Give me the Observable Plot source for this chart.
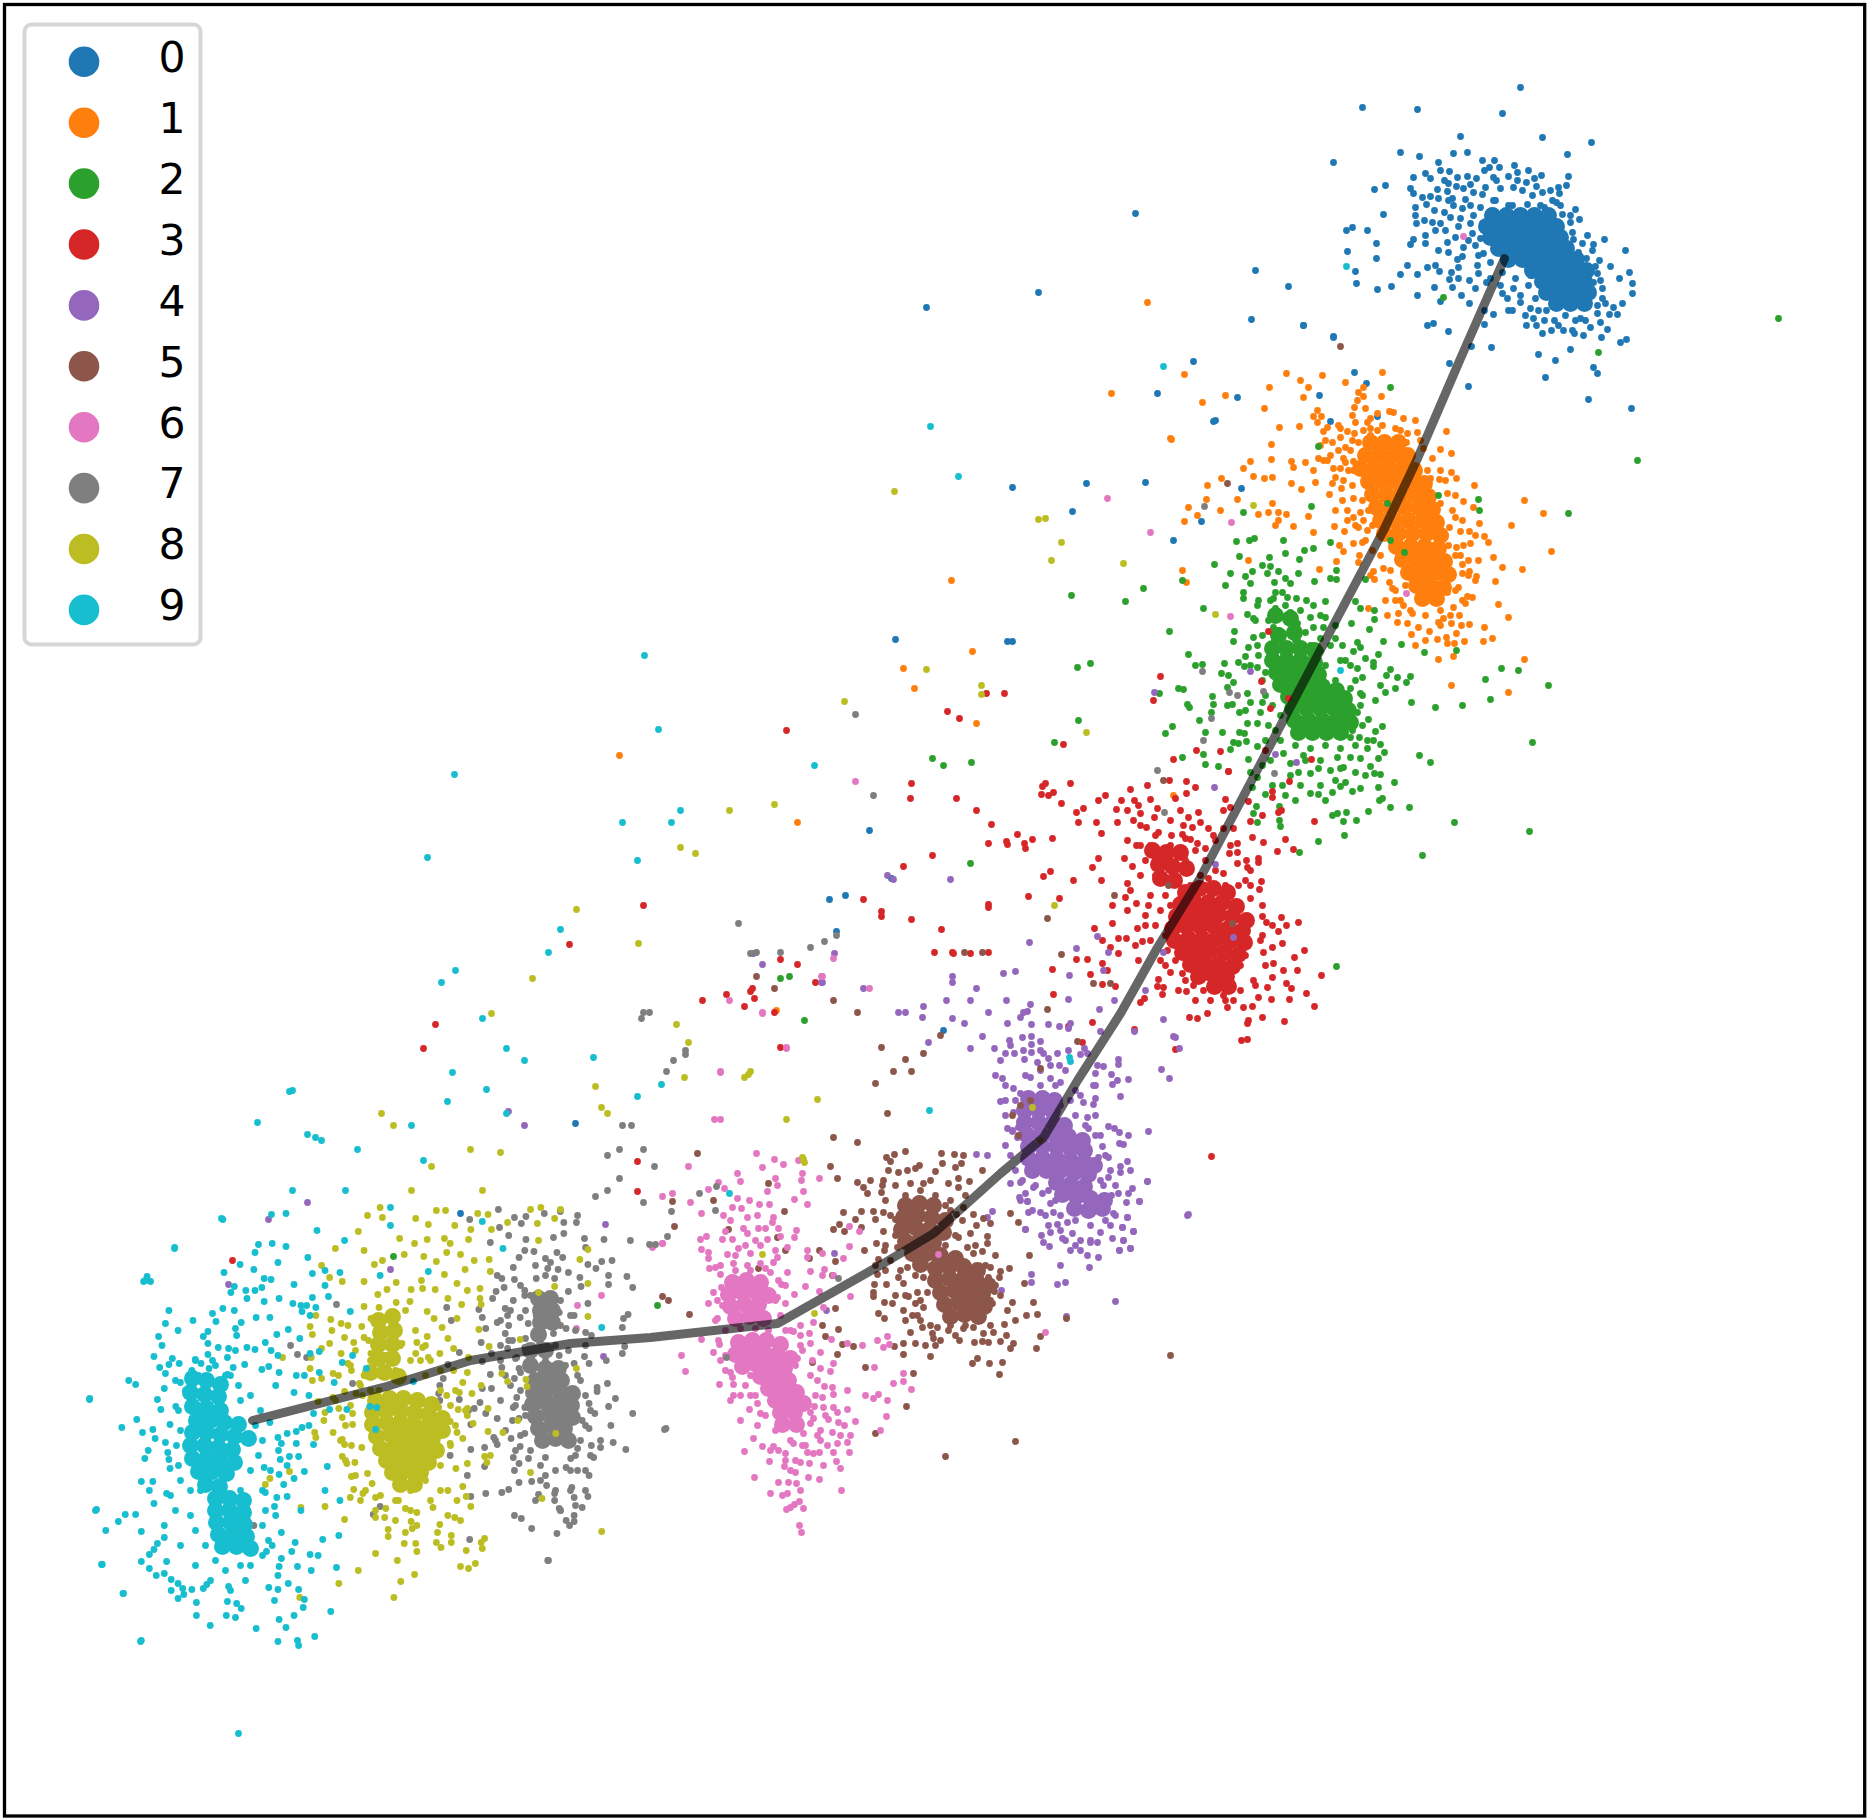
<!DOCTYPE html>
<html><head><meta charset="utf-8">
<script src="https://cdn.jsdelivr.net/npm/d3@7"></script>
<script src="https://cdn.jsdelivr.net/npm/@observablehq/plot@0.6"></script>
<style>html,body{margin:0;padding:0;background:#fff}svg{display:block}</style>
</head><body><div id="chart"></div>
<script>
const labels=["0","1","2","3","4","5","6","7","8","9"];
const colors=["#1f77b4","#ff7f0e","#2ca02c","#d62728","#9467bd","#8c564b","#e377c2","#7f7f7f","#bcbd22","#17becf"];
const pts0=[1520,87,1362,107,1417,109,1502,113,1460,136,1542,137,1591,142,1333,162,1400,152,1567,154,1419,156,1453,153,1467,152,1438,162,1482,160,1494,160,1568,176,1413,177,1425,173,1374,189,1385,185,1410,188,1383,214,1352,227,1346,230,1367,230,1376,243,1347,251,1376,258,1355,271,1356,283,1377,289,1391,286,1400,274,1407,265,1417,274,1417,295,1434,287,1452,287,1461,295,1440,301,1469,303,1484,310,1493,314,1508,310,1484,324,1427,325,1433,323,1448,331,1333,336,1303,325,1471,346,1491,347,1449,363,1468,386,1538,354,1555,360,1545,377,1570,349,1593,367,1597,373,1588,399,1631,408,1620,342,1626,339,1601,337,1583,335,1574,333,1607,329,1622,303,1632,293,1632,283,1629,272,1619,278,1610,266,1625,250,1604,239,1593,244,1599,260,1613,307,1617,314,1609,314,1575,209,1579,219,1566,185,1558,187,1559,193,
1413,193,1415,207,1415,215,1416,223,1424,220,1425,235,1413,239,1410,244,1425,243,1438,250,1422,197,1426,204,1437,189,1447,191,1438,198,1440,170,1449,171,1457,177,1467,176,1476,178,1484,170,1489,167,1499,167,1514,165,1528,170,1517,172,1541,175,1534,178,1526,182,1517,180,1493,177,1448,183,1463,188,1473,192,1485,187,1500,188,1513,187,1532,195,1542,192,1552,200,1556,202,1452,198,1453,205,1465,199,1480,207,1493,200,1508,205,1527,204,1544,207,1562,214,1570,215,1434,210,1444,212,1450,217,1462,208,1473,215,1488,213,1440,223,1460,218,1470,223,1482,223,1435,230,1447,242,1455,237,1472,233,1487,230,1463,247,1475,245,1483,253,1457,259,1435,265,1427,267,1439,271,1451,272,1458,267,1477,265,1478,273,1449,279,1458,278,1469,280,1486,282,1475,288,1502,293,1513,288,1507,298,1520,302,1530,308,1546,310,1533,318,1526,325,1544,320,1551,330,1542,333,1563,330,1572,232,1573,239,1587,235,1578,252,1586,258,1595,266,1597,273,1593,282,1602,288,1602,298,1605,303,1597,313,1600,322,1590,327,1575,320,1554,320,
1430,178,1444,180,1456,186,1470,184,1482,194,1496,180,1508,176,1522,190,1536,186,1550,190,1560,205,1470,205,1448,200,1430,196,1432,222,1445,230,1458,226,1468,240,1480,238,1490,262,1502,272,1478,255,1462,256,1448,252,1500,285,1490,278,1515,278,1528,285,1520,295,1535,298,1512,310,1525,315,1538,310,1530,275,1570,222,1582,243,1592,250,1590,270,1600,280,1580,318,1565,315,1540,205,1512,205,1495,200,1575,262,1597,305,1558,325,1572,330,1536,325,1585,320,
1135,213,1038,292,926,307,1012,487,1086,483,1145,482,1072,511,895,639,1007,641,1012,641,1215,420,1157,393,1251,319,1288,286,1255,270,1303,325,1333,337,869,830,891,878,845,895,829,899,836,931,943,1030,575,1123,460,1213,1193,361,1237,397,1213,421,1241,488,1201,521,1173,540,1319,395,1354,372,1366,383,1330,421,1377,416];
const core0=[1492,215,1506,215,1520,215,1534,215,1548,215,1486,226,1500,226,1514,226,1528,226,1542,226,1556,226,1490,237,1504,237,1518,237,1532,237,1546,237,1560,237,1498,248,1512,248,1526,248,1540,248,1554,248,1566,248,1508,259,1522,259,1536,259,1550,259,1564,259,1576,259,1532,270,1546,270,1560,270,1574,270,1586,270,1542,281,1556,281,1570,281,1584,281,1546,292,1560,292,1574,292,1588,292,1556,303,1570,303,1584,303];
const pts1=[1184,374,1286,373,1322,375,1300,380,1269,387,1308,387,1345,382,1382,372,1225,395,1202,402,1303,397,1264,408,1381,396,1171,439,1279,427,1299,426,1271,444,1250,461,1271,459,1243,468,1253,476,1264,478,1272,477,1221,478,1207,485,1206,499,1188,507,1197,515,1184,521,1220,510,1237,499,1258,514,1268,512,1272,503,1278,512,1286,514,1278,520,1275,525,1293,526,1308,516,1313,532,1334,526,1344,531,1291,483,1301,489,1315,482,1291,461,1305,462,1313,470,1293,467,1339,545,1343,551,1336,561,1319,569,1248,560,1182,570,1186,582,1359,555,1358,562,1373,571,1374,579,1368,608,1387,615,1397,622,1411,634,1415,645,1438,659,1453,656,1451,685,1508,692,1524,659,1483,641,1492,638,1484,627,1508,617,1498,604,1495,581,1502,567,1522,569,1493,557,1551,551,1511,525,1543,513,1524,500,1488,542,1484,536,1479,523,1476,576,1474,485,1463,501,1473,507,1451,472,1456,478,1451,453,1440,449,1446,431,1417,432,1403,418,1447,493,1439,479,1430,478,
1317,410,1313,416,1321,416,1317,422,1327,427,1323,431,1338,425,1340,428,1347,431,1363,396,1358,392,1363,387,1357,400,1354,407,1365,408,1352,415,1355,422,1367,422,1370,418,1377,413,1389,411,1393,412,1363,430,1377,430,1395,428,1407,433,1398,438,1406,442,1332,442,1340,437,1354,433,1358,442,1370,435,1338,450,1345,447,1318,458,1323,460,1327,460,1343,458,1353,461,1333,468,1340,468,1335,477,1343,480,1332,483,1341,488,1329,494,1353,470,1363,453,1387,443,1402,450,1353,498,1362,500,1347,510,1353,517,1347,520,1358,527,1363,520,1353,543,1362,542,1367,530,1372,550,1383,568,1389,582,1392,588,1403,605,1398,613,1407,623,1412,613,1418,627,1429,631,1437,639,1446,637,1447,643,1454,643,1456,633,1464,641,1461,625,1469,624,1451,623,1443,618,1459,615,1453,607,1447,592,1458,587,1467,596,1472,597,1465,603,1462,573,1469,571,1462,564,1468,560,1455,555,1463,545,1470,543,1456,547,1448,545,1469,531,1460,531,1455,517,1449,527,1440,520,1440,503,1430,507,1420,480,1427,470,1410,463,1423,448,
1352,440,1345,462,1352,485,1360,512,1365,540,1380,555,1390,570,1395,590,1400,600,1410,610,1425,615,1438,622,1450,615,1462,600,1475,580,1478,560,1460,555,1445,535,1452,510,1445,480,1432,458,1420,440,1415,420,1382,425,1370,428,1350,450,1325,440,1320,445,1330,455,1348,470,1342,500,1335,510,1370,575,1385,600,1405,585,1440,470,1455,495,1462,520,1475,535,1440,625,1425,640,1395,600,1382,445,1400,430,1355,525,1372,525,1368,510,1412,455,1432,545,1440,610,1455,590,1468,575,
1147,302,1111,393,1170,438,951,580,903,668,972,651,914,688,976,723,619,755,797,822,1173,795,776,1010];
const core1=[1370,442,1384,442,1398,442,1365,455,1379,455,1393,455,1407,455,1360,468,1374,468,1388,468,1402,468,1414,470,1368,481,1382,481,1396,481,1410,481,1424,483,1372,494,1386,494,1400,494,1414,494,1428,496,1376,507,1390,507,1404,507,1418,507,1432,509,1380,520,1394,520,1408,520,1422,520,1436,522,1384,533,1398,533,1412,533,1426,533,1440,535,1396,546,1410,546,1424,546,1438,548,1402,559,1416,559,1430,559,1444,561,1408,572,1422,572,1436,572,1448,574,1416,585,1430,585,1443,587,1422,598,1436,598];
const pts2=[1236,541,1249,540,1254,538,1283,540,1304,550,1313,548,1330,542,1285,553,1239,556,1269,557,1299,559,1214,564,1262,565,1270,566,1230,573,1252,571,1278,571,1298,573,1336,570,1245,576,1267,573,1182,580,1250,583,1274,582,1285,578,1290,583,1314,581,1330,578,1336,579,1365,579,1225,585,1243,592,1243,598,1275,592,1282,592,1203,608,1258,600,1273,598,1287,597,1296,598,1306,600,1325,601,1355,601,1360,608,1374,610,1374,619,1351,623,1369,629,1313,605,1257,605,1275,608,1290,612,1310,617,1247,614,1253,618,1268,620,1297,623,1313,627,1325,617,1323,627,1169,631,1234,631,1233,641,1253,637,1248,647,1257,645,1273,627,1283,633,1297,640,1320,638,1335,638,1342,645,1357,642,1360,647,1353,651,1188,654,1195,665,1202,664,1245,656,1238,662,1224,663,1221,673,1228,675,1244,666,1257,667,1265,672,1270,653,1345,660,1365,658,1373,662,1357,668,1373,666,1362,677,1390,669,1386,675,1397,677,1410,676,1406,682,1395,688,1380,685,1385,692,1350,688,1360,693,1340,690,1178,688,1183,689,1233,682,1227,687,1212,696,1247,693,1250,702,1262,702,1227,705,1232,704,1213,704,1187,704,1189,707,1211,712,1239,712,1245,710,1199,720,1247,723,1260,712,1257,723,1172,726,1165,733,1205,732,1222,732,1239,732,1244,733,1246,741,1233,742,1238,743,1230,749,1203,754,1182,757,1205,764,1218,766,1248,759,1250,772,1257,746,1257,777,1252,787,1272,785,1282,785,1265,794,1285,795,1295,800,1310,793,1325,800,1318,794,1332,792,1340,786,1352,791,1360,788,1378,787,1380,774,1374,773,1382,798,1379,800,1256,806,1253,813,1279,806,1279,820,1280,826,1257,822,1332,815,1337,813,1346,812,1343,821,1356,820,1368,811,1382,726,1375,731,1359,737,1367,740,1373,740,1380,744,1384,752,1378,758,1370,766,1360,758,1367,748,1350,737,1337,757,1350,757,1343,767,1330,770,1318,768,1310,773,1298,772,1290,763,1283,753,1303,755,1357,712,1368,719,1350,710,1347,723,
1270,600,1285,605,1300,610,1255,620,1262,635,1278,630,1290,622,1305,632,1320,615,1335,625,1258,655,1250,665,1262,680,1310,645,1330,645,1340,660,1325,665,1335,680,1350,665,1355,680,1362,695,1345,700,1360,705,1375,700,1265,695,1272,705,1280,715,1268,725,1280,740,1265,740,1275,730,1295,745,1310,748,1325,745,1340,748,1355,745,1320,760,1340,768,1355,772,1365,775,1300,785,1320,785,1335,780,1290,775,1305,760,1295,640,1280,615,1320,650,1352,730,1362,725,1270,760,1262,765,1345,782,
1778,318,1637,460,1598,352,1443,297,1390,387,1568,513,1501,668,1518,670,1548,685,1485,679,1490,699,1532,742,1529,831,1454,822,1419,755,1430,762,1422,855,1462,705,1435,707,1411,702,1394,782,1409,807,1390,807,1318,841,1344,835,1299,852,1336,966,1478,499,1479,510,1438,495,1318,446,1311,506,1243,512,1387,503,1390,540,1404,552,1456,650,1424,652,1401,644,1383,641,1378,654,1090,663,1077,667,1071,595,1143,588,1125,601,971,762,932,758,943,765,970,863,804,1020,780,978,789,976,393,1256,657,1305,1078,720,1054,742,1159,693];
const core2=[1272,648,1286,648,1300,648,1314,650,1272,660,1286,660,1300,660,1314,662,1276,672,1290,672,1304,672,1318,674,1280,684,1294,684,1308,684,1322,686,1336,690,1288,696,1302,696,1316,696,1330,696,1344,698,1292,708,1306,708,1320,708,1334,708,1348,710,1294,720,1308,720,1322,720,1336,720,1350,722,1298,732,1312,732,1326,732,1340,732,1275,615,1290,618,1278,635,1294,632];
const pts3=[1045,783,1070,783,1041,794,1053,792,1061,803,1076,812,1083,808,1098,800,1105,795,1121,800,1130,789,1147,785,1134,800,1150,799,1116,809,1127,810,1138,805,1096,822,1117,822,1133,820,1140,813,1154,817,1157,808,1101,833,1017,834,1032,839,1007,844,1025,848,1052,838,1127,840,1136,845,1146,827,1158,832,1171,835,1098,858,1092,867,1043,876,1050,871,1073,880,1101,880,1127,883,1124,858,1132,866,1028,896,1059,898,1125,897,1136,903,1112,905,1127,910,1148,905,1112,923,1094,928,1137,928,1145,925,1118,938,1126,938,1102,940,1135,945,1142,941,1110,947,1118,953,1076,959,1087,959,1102,963,1138,960,1052,969,1107,970,1090,974,1102,984,1115,986,1053,994,1158,979,1157,986,1163,987,1162,994,1178,990,1186,991,1144,998,1140,1002,1092,1022,1134,1029,1175,1049,1082,1042,1189,1017,1197,1018,1207,1013,1211,1156,1248,1020,1247,1023,1241,1040,1247,1039,1262,1017,1284,1021,1314,1006,1306,993,1321,975,1289,999,1291,988,1286,983,1283,970,1297,970,1294,957,1304,950,1282,943,1278,931,1286,925,1298,922,1281,917,1272,925,1266,922,1262,916,1272,947,1263,952,1273,963,1272,977,1267,987,1253,980,1258,997,1271,999,1252,1006,1243,1007,1233,1000,1227,1007,1223,995,1203,990,1193,985,1182,973,1170,972,1160,960,1167,950,1261,881,1259,889,1250,898,1245,880,1258,858,1258,862,1246,860,1237,863,1247,867,1223,873,1208,878,1237,843,1237,852,1229,853,1252,837,1263,842,1285,839,1277,851,1293,849,1314,821,1262,815,1250,821,1278,812,1281,810,1272,791,1272,797,1289,781,1248,801,1225,799,1223,810,1230,807,1228,771,1195,787,1186,781,1186,793,1175,798,1169,780,1198,812,1188,817,1180,810,1170,820,1200,822,1208,828,1192,827,1183,825,1182,834,1190,839,1223,828,1233,828,1213,835,1197,843,1205,848,
1140,825,1155,835,1170,845,1185,838,1195,850,1205,860,1215,870,1225,885,1238,885,1250,870,1140,845,1145,860,1155,875,1165,895,1150,895,1160,910,1145,915,1155,925,1165,935,1150,940,1175,960,1185,980,1195,1000,1210,1000,1225,1000,1240,990,1255,985,1265,965,1260,940,1262,905,1250,885,1185,860,1200,875,1170,905,1140,875,1130,890,1165,965,1215,840,1230,845,1262,935,1150,845,1178,880,1190,885,1205,885,1240,965,1245,955,
1196,750,1220,751,1173,759,1228,771,1268,631,1261,681,1288,698,1270,708,1311,759,1265,750,1160,676,1153,700,
911,783,910,798,956,798,976,810,991,824,1024,843,1006,841,988,843,932,855,903,866,881,911,863,899,911,919,941,929,988,907,953,953,970,953,786,730,947,711,959,718,1004,693,986,693,1063,744,1042,786,1048,795,1078,822,643,905,569,944,435,1024,423,1048,637,1161,637,1191,750,991,754,998,774,1012,780,959,232,1260,702,1000,1068,1026,
726,994,752,988,797,964,815,982,881,916,934,952,988,904,952,952,988,952,744,1006,780,1047];
const core3=[1185,892,1199,888,1213,888,1227,892,1180,904,1194,902,1208,902,1222,902,1236,906,1176,916,1190,914,1204,914,1218,914,1232,916,1246,920,1172,928,1186,926,1200,926,1214,926,1228,928,1242,930,1174,940,1188,938,1202,938,1216,938,1230,940,1244,942,1182,952,1196,950,1210,950,1224,952,1238,954,1190,964,1204,962,1218,964,1232,966,1198,976,1212,974,1226,976,1214,986,1228,986,1152,850,1166,852,1180,852,1158,864,1172,866,1186,868,1160,878,1174,880];
const pts4=[1030,1004,1027,1011,1020,1017,1031,1024,1048,1024,1059,1026,1068,1028,1070,1023,1007,1023,1022,1037,1031,1036,1040,1041,1009,1040,1031,1044,1023,1050,1031,1052,1043,1053,1057,1053,1068,1050,1080,1054,1084,1048,1087,1053,1014,1053,1005,1053,1024,1059,1037,1062,1048,1058,1059,1065,1097,1065,1103,1066,1118,1059,1118,1064,1111,1074,1117,1080,1128,1079,1112,1084,1095,1073,1093,1085,1120,1096,1095,1098,1093,1104,1080,1095,1083,1102,1030,1077,1050,1078,1060,1082,1013,1088,1020,1093,1005,1100,1013,1112,1007,1128,1018,1127,1005,1145,1017,1137,1087,1117,1088,1128,1108,1126,1114,1128,1119,1132,1128,1135,1095,1135,1102,1146,1119,1143,1123,1144,1098,1157,1108,1157,1127,1161,1120,1166,1130,1170,1120,1172,1147,1181,1108,1177,1103,1185,1132,1188,1128,1193,1111,1195,1118,1193,1126,1202,1139,1201,1113,1213,1127,1217,1122,1227,1133,1231,1123,1240,1130,1248,1119,1250,1112,1238,1097,1242,1090,1242,1080,1240,1062,1238,1049,1246,1043,1242,1041,1235,1025,1229,1057,1224,1048,1225,1067,1222,1053,1212,1040,1212,1028,1212,1032,1210,1027,1201,1020,1200,1025,1193,1042,1193,1033,1187,1020,1182,1010,1183,1050,1203,1072,1233,1070,1250,1080,1250,1087,1255,1098,1257,
1015,1100,1005,1115,1012,1130,1025,1075,1040,1070,1055,1085,1070,1100,1060,1105,1075,1115,1085,1125,1095,1115,1100,1135,1105,1155,1110,1170,1100,1180,1115,1185,1010,1155,1015,1170,1022,1180,1035,1185,1048,1190,1055,1200,1045,1215,1060,1215,1075,1220,1090,1225,1105,1220,1115,1215,1060,1230,1075,1245,1090,1240,1100,1232,1110,1225,1065,1240,1010,1045,1000,1060,995,1075,1005,1085,1040,1050,1050,1065,1040,1085,1065,1070,1075,1090,1095,1085,1090,1210,1050,1232,
1060,1265,1031,1274,1031,1282,1057,1284,1065,1282,1115,1301,1001,1290,826,1310,834,1253,1089,1267,1119,1250,1130,1248,1133,1231,1122,1227,1123,1240,1139,1201,1127,1217,1147,1181,1025,1229,992,1211,987,1217,1019,1197,1027,1201,987,1155,976,1154,
970,1000,952,982,923,1006,905,1012,970,1048,988,1012,928,1042,952,1018,982,1036,1006,1000,1023,1012,1002,1078,994,1048,1000,1101,1012,1131,
950,879,893,879,822,982,753,953,834,953,863,988,1187,1215,1066,1316,1179,1048,1173,1036,524,1125,508,1111,268,1219,307,1202,228,1284,390,1269,605,1224,603,1356,1250,671,1275,754,1296,762,1214,787,1154,692,1215,864,1233,937,1163,952,1145,990,1163,1019,1134,1031,1175,1037,1161,1069,1169,1078,1148,1131,1188,1214,1097,936,1108,952,1076,948,1103,970,1069,975,1029,942,1068,999,1099,1009,1100,1031,1114,1000,1015,971,1003,973,
898,1012,922,1017,952,976,976,988,762,964,821,982,887,875,964,1023,946,1000];
const core4=[1028,1098,1042,1098,1054,1100,1024,1110,1038,1110,1052,1110,1024,1122,1038,1122,1052,1122,1064,1125,1026,1134,1040,1134,1054,1134,1068,1136,1082,1140,1028,1146,1042,1146,1056,1146,1070,1148,1084,1150,1028,1158,1042,1158,1056,1158,1070,1160,1084,1162,1094,1165,1032,1170,1046,1170,1060,1170,1074,1172,1088,1174,1056,1182,1070,1184,1084,1186,1062,1194,1076,1196,1090,1198,1104,1200,1074,1208,1088,1210,1102,1208];
const pts5=[697,1153,768,1183,672,1201,713,1200,784,1211,674,1226,728,1229,830,1166,837,1178,662,1296,668,1300,689,1314,819,1250,835,1261,809,1258,785,1250,777,1237,758,1268,832,1275,835,1308,822,1325,838,1329,825,1336,842,1344,853,1346,837,1354,812,1362,865,1367,875,1433,906,1406,913,1373,894,1346,903,1343,915,1343,903,1354,930,1356,933,1338,935,1345,959,1340,974,1342,982,1341,988,1342,1000,1341,1013,1343,1010,1348,1006,1335,993,1332,983,1333,972,1363,977,1358,989,1363,1002,1362,999,1374,1004,1324,1007,1310,1012,1302,992,1303,985,1293,994,1291,989,1286,999,1277,1000,1271,988,1277,990,1267,982,1251,987,1243,987,1236,990,1223,983,1218,976,1225,973,1214,956,1214,969,1181,982,1170,961,1163,955,1167,963,1155,954,1154,941,1153,905,1151,894,1154,886,1157,890,1161,942,1163,888,1170,898,1172,907,1170,919,1165,915,1168,935,1171,883,1180,882,1185,870,1180,857,1182,863,1187,867,1193,881,1192,910,1183,930,1180,958,1178,958,1187,948,1183,923,1183,843,1212,861,1211,873,1211,855,1219,875,1219,839,1224,833,1229,844,1231,861,1227,883,1212,895,1219,883,1231,876,1243,864,1250,884,1250,878,1259,877,1274,874,1284,886,1284,873,1292,873,1296,884,1302,892,1303,878,1313,884,1318,903,1310,905,1320,912,1315,917,1315,922,1327,910,1332,932,1333,937,1327,948,1330,963,1328,973,1327,980,1320,898,1277,903,1283,908,1296,915,1303,923,1307,927,1292,917,1292,933,1280,923,1277,917,1263,907,1267,897,1247,908,1250,923,1253,933,1257,950,1210,963,1207,962,1220,970,1233,973,1253,967,1247,958,1237,980,1270,
895,1185,905,1195,920,1190,935,1195,945,1205,885,1200,890,1215,895,1235,885,1245,890,1260,900,1270,915,1275,925,1265,895,1295,920,1320,930,1325,950,1325,965,1325,990,1300,995,1285,985,1265,975,1245,955,1235,945,1225,950,1200,965,1195,930,1205,905,1205,875,1265,885,1270,905,1295,940,1340,925,1345,955,1335,1000,1295,1015,1320,990,1325,920,1300,945,1245,960,1260,995,1255,935,1245,915,1240,
1114,895,1047,918,1061,954,1093,983,1110,983,1047,1009,1168,885,1232,923,1163,780,1227,483,1340,346,1077,1041,1015,1441,945,1456,1066,1318,1036,1348,1040,1336,1029,1255,1024,1283,1033,1302,1026,1315,1037,1314,1010,1213,1018,1222,1009,1268,1170,1355,1012,1115,1040,1068,1030,1100,1020,1105,1018,1135,1040,1140,
756,976,774,988,833,1000,857,1012,881,1047,905,1059,923,1053,893,1071,875,1083,911,1071,940,1035,964,952,982,952,887,1113,833,1137,857,1142];
const core5=[935,1268,949,1266,963,1266,977,1270,935,1280,949,1278,963,1278,977,1282,988,1285,940,1292,954,1290,968,1290,982,1294,944,1304,958,1302,972,1302,984,1306,950,1316,964,1314,978,1316,905,1205,919,1203,933,1205,903,1217,917,1215,931,1217,945,1220,901,1229,915,1227,929,1229,943,1232,905,1241,919,1240,933,1242,912,1253,926,1253,940,1255,955,1258,920,1264];
const pts6=[756,1153,688,1166,774,1159,783,1164,798,1160,762,1167,737,1173,802,1173,740,1181,775,1178,801,1180,819,1178,718,1182,777,1185,708,1189,724,1188,672,1193,662,1196,767,1191,803,1191,794,1199,807,1204,737,1198,749,1200,759,1204,769,1204,701,1213,732,1207,741,1208,723,1215,747,1217,757,1215,773,1217,730,1220,772,1222,743,1228,758,1228,778,1228,796,1230,725,1231,794,1237,706,1236,700,1239,722,1239,732,1239,747,1233,767,1239,780,1236,662,1243,652,1246,701,1249,708,1252,708,1258,727,1254,738,1248,750,1253,777,1257,787,1247,807,1250,822,1253,807,1257,843,1258,849,1246,849,1226,859,1231,709,1268,715,1267,720,1274,733,1263,747,1265,760,1263,773,1262,770,1272,787,1272,810,1271,824,1269,822,1275,833,1275,781,1284,785,1285,805,1286,819,1291,794,1294,850,1296,713,1292,721,1287,708,1303,717,1300,717,1318,785,1303,823,1307,777,1297,813,1322,800,1325,809,1333,793,1331,800,1335,701,1339,831,1339,810,1343,847,1343,862,1345,877,1340,887,1336,883,1347,889,1344,681,1355,713,1352,719,1344,820,1352,802,1350,797,1358,833,1363,685,1371,725,1370,820,1368,830,1371,874,1367,903,1373,903,1381,893,1383,911,1389,719,1384,733,1384,732,1377,817,1380,824,1386,832,1387,847,1390,833,1394,733,1395,750,1395,740,1395,865,1395,873,1398,878,1394,887,1400,822,1397,749,1409,760,1413,757,1403,814,1406,823,1407,833,1407,847,1409,837,1412,886,1416,813,1418,828,1419,855,1421,838,1422,844,1425,880,1430,757,1425,810,1423,820,1430,832,1432,850,1435,753,1438,803,1433,817,1435,762,1446,773,1446,793,1443,802,1445,827,1445,837,1443,847,1442,744,1451,778,1450,785,1453,807,1452,813,1453,819,1452,833,1452,849,1452,795,1460,800,1462,809,1463,769,1461,836,1461,784,1466,823,1465,840,1468,790,1470,795,1472,754,1477,808,1477,819,1479,778,1482,788,1482,796,1483,800,1490,841,1490,770,1493,782,1495,787,1493,799,1501,794,1504,790,1507,786,1509,803,1508,799,1525,801,1532,1045,1332,938,1254,
720,1265,735,1270,750,1270,765,1268,778,1280,775,1300,780,1315,768,1330,755,1328,740,1328,725,1330,715,1320,722,1305,718,1340,725,1355,730,1372,745,1385,755,1395,770,1400,790,1330,800,1345,795,1365,810,1375,815,1395,810,1412,800,1425,790,1440,775,1430,765,1415,770,1450,785,1460,805,1445,820,1440,785,1330,775,1250,760,1245,745,1245,735,1255,765,1228,755,1240,740,1420,730,1400,750,1375,720,1360,812,1360,825,1415,840,1435,
1463,236,1231,522,1230,616,1150,532,1406,593,1107,498,855,781,762,1013,786,1048,720,1072,714,1119,729,1000,822,976,652,1247,662,1243,601,1295,577,1305,576,1328,
720,1119,690,1202,786,1047,720,1071,762,1012,821,976,869,988,833,958];
const core6=[732,1282,746,1280,760,1282,728,1294,742,1292,756,1292,768,1295,730,1306,744,1304,758,1304,735,1318,749,1316,763,1318,738,1342,752,1340,766,1340,780,1344,735,1354,749,1352,763,1352,777,1354,790,1358,742,1366,756,1364,770,1364,784,1368,760,1376,774,1376,788,1380,768,1388,782,1388,796,1392,775,1400,789,1400,803,1403,780,1412,794,1412,782,1424,796,1424];
const cropPts7=[444,1209,468,1216,458,1217,419,1219,445,1227,464,1223,484,1213,498,1211,513,1215,501,1222,512,1222,453,1235,437,1242,468,1239,492,1237,501,1233,519,1238,536,1239,559,1240,467,1250,475,1251,495,1252,520,1247,462,1257,485,1258,500,1257,522,1264,534,1261,543,1260,529,1268,457,1267,487,1268,496,1269,505,1272,515,1277,540,1275,556,1276,447,1278,458,1279,477,1278,493,1278,443,1275,540,1284,561,1287,449,1287,467,1290,505,1291,516,1286,442,1291,457,1300,439,1298,467,1295,450,1308,427,1309,399,1307,452,1315,463,1317,477,1315,497,1312,510,1315,522,1303,557,1314,553,1318,430,1317,403,1320,443,1322,433,1328,453,1325,470,1323,503,1328,552,1327,450,1333,477,1330,492,1333,520,1332,429,1342,453,1340,525,1335,554,1346,552,1353,452,1348,467,1347,480,1343,460,1357,438,1353,519,1356,473,1357,497,1355,510,1363,523,1363,538,1360,437,1374,447,1367,462,1368,430,1361,410,1352,400,1364,396,1378,393,1385,458,1378,513,1375,539,1383,530,1387,530,1391,430,1388,438,1388,392,1393,393,1400,410,1399,428,1402,418,1410,423,1408,460,1397,467,1407,457,1407,546,1398,540,1406,561,1413,523,1403,528,1413,433,1413,443,1418,462,1418,420,1424,517,1420,542,1425,590,1428,523,1428,440,1437,455,1438,467,1433,525,1445,533,1440,544,1442,555,1449,420,1449,432,1447,443,1444,463,1446,513,1448,533,1447,402,1455,457,1457,472,1450,485,1457,507,1458,527,1457,432,1466,462,1463,503,1467,417,1475,458,1470,485,1475,513,1470,523,1475,462,1482,473,1481,486,1485,508,1487,420,1496,433,1493,447,1492,453,1489,479,1494,493,1493,510,1497,522,1496,493,1500,497,1508,517,1507,341,1506,335,1514,458,1515,464,1518,498,1510,510,1515,503,1520,510,1521,506,1525,473,1528,495,1533,419,1539,487,1560,231,1525,214,1443,303,1304,263,1345,269,1354,277,1357,317,1383];
const pts7=[500,1345,512,1340,525,1338,540,1340,555,1345,568,1350,500,1360,515,1358,530,1355,545,1360,565,1365,505,1375,520,1372,580,1380,585,1395,590,1410,585,1425,580,1440,575,1455,520,1390,515,1405,525,1415,512,1420,520,1435,515,1450,528,1458,540,1465,555,1470,570,1470,585,1470,540,1480,555,1490,570,1490,590,1455,500,1320,510,1310,525,1310,530,1295,560,1300,570,1315,560,1325,545,1275,550,1262,535,1265,520,1285,575,1330,585,1345,495,1440,505,1430,500,1400,510,1385,535,1500,560,1510,575,1505,585,1490,
1204,506,1202,671,1229,692,1237,695,1263,691,1211,718,1203,740,1274,773,1157,770,1164,812,873,795,855,714,738,923,824,941,750,953,810,947,836,935,649,1012,641,1018,685,1054,673,1060,622,1125,607,1155,643,1149,655,1244,664,1429,548,1560,726,1357,654,1166,699,1193,716,1186,715,1210,671,1211,667,1236,838,1278,
643,1012,685,1050,666,1071,631,1125,619,1149,607,1190,643,1202,595,1196,619,1178,649,1244,756,952,780,952];
const core7=[535,1380,548,1378,561,1380,533,1392,546,1390,559,1390,572,1393,532,1404,545,1402,558,1402,571,1405,535,1416,548,1414,561,1414,572,1417,538,1428,551,1426,564,1428,542,1440,555,1438,568,1440,538,1298,550,1298,540,1310,552,1310,540,1322,552,1322,538,1334,530,1350,545,1350,530,1365,545,1368,558,1368];
const cropPts8=[330,1215,343,1217,341,1207,372,1218,390,1210,398,1210,426,1213,435,1214,383,1224,406,1225,420,1229,438,1229,322,1231,358,1238,382,1239,397,1238,418,1239,302,1248,327,1250,371,1243,402,1243,362,1254,379,1256,399,1252,411,1254,336,1264,343,1260,390,1261,423,1260,290,1265,436,1259,397,1274,415,1269,437,1271,297,1277,308,1281,327,1281,355,1282,377,1280,408,1283,347,1289,368,1289,378,1288,389,1289,417,1290,428,1288,339,1294,400,1298,428,1298,355,1302,367,1301,412,1304,429,1304,327,1306,340,1307,382,1311,285,1315,298,1319,333,1318,388,1318,408,1318,280,1326,307,1323,325,1326,299,1330,313,1325,282,1334,310,1337,327,1337,347,1333,395,1327,427,1329,318,1342,337,1342,297,1343,382,1336,400,1338,436,1346,463,1339,290,1348,307,1353,360,1343,373,1342,378,1347,405,1348,256,1357,281,1357,313,1363,333,1353,347,1355,372,1353,383,1357,393,1353,418,1357,280,1368,300,1373,316,1370,327,1375,343,1370,405,1370,417,1372,447,1373,282,1380,290,1378,323,1383,413,1382,429,1385,452,1381,468,1379,469,1386,410,1392,421,1393,399,1395,310,1391,287,1401,300,1397,320,1393,340,1390,392,1407,409,1409,417,1408,435,1408,293,1412,305,1408,317,1413,417,1415,422,1423,292,1420,308,1417,300,1432,317,1424,402,1421,284,1432,308,1439,316,1445,408,1432,435,1431,448,1432,461,1420,494,1433,285,1437,310,1444,325,1447,413,1438,402,1443,308,1456,432,1456,437,1455,312,1463,319,1462,417,1463,434,1462,262,1471,245,1478,241,1484,316,1476,407,1468,472,1472,330,1473,318,1489,326,1493,334,1483,400,1490,413,1486,315,1497,293,1506,337,1497,357,1500,408,1500,416,1496,420,1506,482,1498,272,1507,363,1508,373,1512,387,1507,346,1508,337,1517,345,1517,310,1519,368,1521,400,1515,406,1517,411,1520,393,1524,373,1525,369,1528,348,1529,363,1532,391,1532,348,1536,403,1535,362,1543,372,1543,390,1542,403,1542,394,1547,429,1542,432,1538,430,1548,416,1550,337,1553,373,1551,356,1560,411,1566,418,1568,424,1563,322,1570,371,1574,359,1581,305,1583,353,1597,271,1597,534,1531,522,1249,515,1259,522,1283,522,1316,493,1286,493,1218,478,1223,479,1240,479,1292,481,1207,452,1222,512,1368];
const pts8=[355,1350,368,1340,380,1330,392,1320,405,1310,415,1330,425,1345,410,1360,395,1370,380,1375,360,1385,370,1390,425,1375,440,1390,450,1405,455,1425,450,1445,440,1465,425,1480,410,1490,395,1500,380,1495,365,1490,355,1475,345,1460,340,1440,350,1405,362,1395,345,1425,360,1500,375,1510,395,1520,410,1510,430,1500,440,1490,420,1360,400,1345,385,1355,370,1360,440,1370,455,1390,465,1410,430,1360,350,1365,338,1375,335,1400,
894,491,1038,519,1045,518,1061,542,1051,560,1123,563,926,669,981,685,981,694,844,701,1086,732,774,804,729,810,680,847,695,853,576,909,638,943,532,978,491,1013,676,1024,688,1042,748,1074,817,1099,803,1159,762,1254,802,1157,804,1162,814,1313,1054,905,1032,1107,1215,614,1253,505,
381,1113,393,1125,411,1190,431,1166,470,1149,500,1152,482,1190,530,1209,560,1209,601,1107,607,1113,595,1086,684,1077,750,1071,786,1119,744,1077];
const core8=[375,1400,389,1398,403,1398,417,1400,431,1404,372,1412,386,1410,400,1410,414,1412,428,1414,442,1418,372,1424,386,1422,400,1422,414,1424,428,1426,442,1430,376,1436,390,1434,404,1434,418,1436,432,1438,380,1448,394,1446,408,1446,422,1448,436,1450,386,1460,400,1458,414,1460,428,1462,392,1472,406,1470,420,1472,400,1484,414,1484,378,1320,392,1316,380,1332,394,1330,378,1344,392,1344,378,1358,392,1358,370,1372,384,1372,398,1376];
const cropPts9=[204,1219,162,1247,235,1244,247,1243,259,1246,232,1252,278,1257,219,1264,252,1262,205,1272,231,1269,240,1278,246,1279,138,1276,135,1281,141,1281,214,1286,224,1290,232,1290,238,1287,211,1292,266,1284,225,1298,240,1301,253,1298,265,1303,282,1297,157,1310,204,1308,214,1310,195,1313,198,1321,178,1320,154,1323,220,1322,233,1317,245,1317,165,1330,215,1328,191,1331,148,1336,187,1336,216,1335,151,1345,191,1343,200,1347,209,1348,225,1347,232,1349,241,1342,251,1334,261,1329,271,1338,144,1356,191,1354,208,1357,215,1350,246,1350,252,1355,160,1358,180,1359,195,1360,149,1367,157,1364,166,1363,185,1363,213,1367,223,1364,238,1369,244,1366,253,1372,268,1375,275,1375,122,1380,128,1384,88,1398,154,1373,167,1382,177,1370,192,1368,208,1374,250,1385,266,1392,279,1395,153,1388,147,1399,163,1406,150,1409,129,1419,116,1427,134,1432,143,1429,158,1424,154,1442,145,1438,139,1450,136,1458,157,1459,158,1468,156,1452,133,1481,143,1481,140,1490,155,1493,144,1503,94,1509,119,1514,128,1514,113,1521,102,1530,133,1531,153,1525,153,1537,147,1543,144,1549,140,1554,133,1561,155,1561,99,1564,140,1568,153,1573,146,1575,159,1579,165,1583,169,1588,117,1593,159,1590,165,1598,170,1594,177,1589,187,1588,190,1584,181,1602,209,1586,208,1601,216,1603,220,1608,181,1615,193,1625,207,1615,215,1617,233,1628,253,1619,259,1627,266,1615,249,1600,244,1587,252,1589,261,1583,270,1589,275,1599,274,1607,298,1611,284,1636,269,1640,270,1645,252,1641,133,1640,252,1575,253,1566,269,1566,281,1570,303,1567,280,1554,287,1555,264,1551,291,1539,305,1535,267,1542,247,1545,255,1558,242,1551,255,1532,272,1510,306,1500,293,1490,260,1496,251,1497,249,1506,250,1515,241,1492,257,1484,266,1478,253,1474,275,1471,295,1466,260,1465,262,1456,270,1456,254,1459,240,1467,283,1444,268,1443,255,1443,252,1437,279,1425,273,1427,268,1431,260,1433,283,1413,245,1422,297,1409,312,1409,337,1429,332,1406,338,1407,301,1382,308,1362,317,1355,329,1368,288,1372,288,1351,280,1353,341,1275,350,1207,350,1225,310,1240,286,1230,259,1213,282,1273,293,1270,306,1272,293,1285,296,1296,272,1305,277,1305,285,1307,273,1311,280,1315,315,1311,383,1271,430,1221,448,1248,534,1327,370,1381];
const pts9=[175,1380,185,1390,198,1375,210,1380,225,1375,238,1385,250,1395,260,1410,255,1425,262,1440,258,1455,250,1470,240,1490,262,1490,265,1510,262,1525,268,1540,262,1555,250,1565,240,1565,225,1570,215,1560,205,1545,195,1530,190,1515,200,1490,190,1490,180,1480,178,1465,176,1445,180,1430,178,1410,195,1360,215,1365,230,1375,170,1495,175,1510,180,1545,195,1565,210,1580,230,1590,245,1580,270,1470,278,1450,240,1400,215,1400,
644,655,658,729,454,774,427,857,622,822,680,810,671,822,637,860,814,765,1163,366,930,426,958,476,560,929,548,952,441,982,455,970,482,1018,506,1048,524,1060,593,1057,452,1072,486,1089,447,1101,506,1113,637,1096,661,1084,929,1110,1069,1057,292,1090,257,1122,307,1134,321,1140,357,1149,221,1218,174,1248,145,1280,89,1399,238,1733,140,1641,95,1510,101,1564,123,1593,1346,266,1340,670,729,1193,1070,1061,
411,1125,423,1160,345,1190,315,1137,289,1091,271,1214,292,1190];
const core9=[192,1378,206,1380,220,1384,190,1392,204,1394,218,1396,192,1406,206,1408,220,1410,196,1420,210,1420,224,1422,238,1424,192,1432,206,1432,220,1434,234,1436,248,1438,190,1445,204,1445,218,1447,232,1449,192,1458,206,1458,220,1460,234,1462,198,1471,212,1471,226,1473,205,1484,219,1486,215,1498,229,1498,243,1500,215,1510,229,1510,243,1512,216,1522,230,1522,244,1524,218,1534,232,1534,246,1536,222,1546,236,1546,250,1548];
const meanX=[1504,1460,1417,1383,1337,1267,1200,1157,1120,1077,1043,1000,933,883,777,650,570,470,386,252];
const meanY=[258,358,458,530,617,750,877,947,1013,1080,1137,1173,1233,1263,1323,1337,1343,1360,1386,1420];

// The readings in the crop* lists were taken from a crop shown at 2.613x across (and 3x down), origin x=80.
const fromCrop=flat=>flat.map((v,i)=>i%2?v:80+(v-80)*1.148);
const pair=(flat,label)=>d3.range(0,flat.length,2).map(i=>({x:flat[i],y:flat[i+1],label}));
const points=[pts0,pts1,pts2,pts3,pts4,pts5,pts6,[...fromCrop(cropPts7),...pts7],[...fromCrop(cropPts8),...pts8],[...fromCrop(cropPts9),...pts9]];
const cores=[core0,core1,core2,core3,core4,core5,core6,core7,core8,core9];
const mean=meanX.map((x,i)=>({x,y:meanY[i]}));
const legendRows=labels.map((label,i)=>({label,i}));

const chart=Plot.plot({
  width:1867,height:1819,margin:0,
  x:{domain:[0,1867],range:[0,1867],axis:null},
  y:{domain:[0,1819],range:[0,1819],axis:null},
  color:{domain:labels,range:colors},
  style:{background:"#fff",fontFamily:"'DejaVu Sans',sans-serif"},
  marks:[
    ...labels.flatMap((label,i)=>[
      Plot.dot(pair(cores[i],label),{x:"x",y:"y",r:8.5,fill:"label",stroke:"none"}),
      Plot.dot(pair(points[i],label),{x:"x",y:"y",r:3.4,fill:"label",stroke:"none"})
    ]),
    Plot.line(mean,{x:"x",y:"y",stroke:"#000",strokeOpacity:0.6,strokeWidth:9,curve:"linear",strokeLinejoin:"miter"}),
    Plot.rect([0],{x1:()=>4.5,x2:()=>1864.7,y1:()=>4.5,y2:()=>1816,fill:"none",stroke:"#000",strokeWidth:3.3}),
    Plot.rect([0],{x1:()=>24.5,x2:()=>200.5,y1:()=>24.5,y2:()=>644.5,fill:"#fff",fillOpacity:0.8,stroke:"#d6d6d6",strokeWidth:4,rx:7}),
    Plot.dot(legendRows,{x:()=>83.5,y:d=>61.3+60.9*d.i,r:15.3,fill:"label",stroke:"none"}),
    Plot.text(legendRows,{x:()=>158,y:d=>58+60.9*d.i,text:"label",fontSize:42.5,textAnchor:"start",fill:"#000"})
  ]
});
document.getElementById("chart").append(chart);
</script></body></html>
